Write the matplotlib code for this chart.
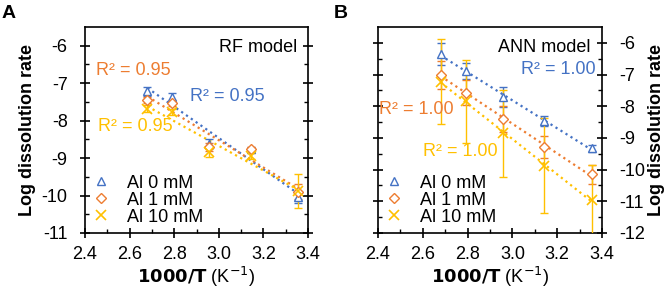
import matplotlib.pyplot as plt
import numpy as np

plt.rcParams['font.family'] = ['Liberation Sans', 'DejaVu Sans']

# 1000/T for 100, 85, 65, 45, 25 C
inv_t = [2.680, 2.792, 2.957, 3.143, 3.354]
series_names = ['Al 0 mM', 'Al 1 mM', 'Al 10 mM']
colors = ['#4472C4', '#ED7D31', '#FFC000']
markers = ['^', 'D', 'x']

# RF model
rf_al0 = [-7.21, -7.37, -8.62, -8.77, -10.04]
rf_al1 = [-7.44, -7.53, -8.70, -8.77, -9.90]
rf_al10 = [-7.68, -7.77, -8.84, -8.95, -9.88]
rf_err0 = [0.12, 0.10, 0.12, 0.06, 0.15]
rf_err1 = [0.08, 0.08, 0.10, 0.06, 0.20]
rf_err10 = [0.10, 0.08, 0.12, 0.08, 0.45]

# ANN model
ann_al0 = [-6.34, -6.90, -7.71, -8.46, -9.33]
ann_al1 = [-7.01, -7.57, -8.40, -9.28, -10.15]
ann_al10 = [-7.22, -7.85, -8.86, -9.88, -10.95]
ann_err0 = [0.35, 0.25, 0.33, 0.15, 0.12]
ann_err1 = [0.45, 0.40, 0.40, 0.35, 0.30]
ann_err10 = [1.35, 1.32, 1.38, 1.50, 1.10]

r2_rf = ['R² = 0.95', 'R² = 0.95', 'R² = 0.95']
r2_ann = ['R² = 1.00', 'R² = 1.00', 'R² = 1.00']

fig = plt.figure(figsize=(6.71, 2.90), dpi=100)
axA = fig.add_axes([0.1267, 0.1966, 0.3323, 0.7103])
axB = fig.add_axes([0.5633, 0.1966, 0.3338, 0.7103])


def draw(ax, ys, errs):
    x = np.array(inv_t)
    for y, e, c, m, name in zip(ys, errs, colors, markers, series_names):
        k, b = np.polyfit(x, y, 1)
        ax.plot(x, k * x + b, ls=':', lw=1.6, color=c, zorder=2)
        ax.errorbar(x, y, yerr=e, fmt='none', ecolor=c, elinewidth=1,
                    capsize=3, capthick=1, zorder=3)
        if m == 'x':
            ax.plot(x, y, ls='none', marker=m, ms=7, mew=1.2, color=c,
                    label=name, zorder=4)
        else:
            ax.plot(x, y, ls='none', marker=m, ms=6 if m == '^' else 5,
                    mew=1.0, mfc='white', mec=c, label=name, zorder=4)


def style(ax):
    ax.set_xlim(2.4, 3.4)
    ax.set_xticks(np.arange(2.4, 3.41, 0.2))
    ax.set_xticks(np.arange(2.5, 3.4, 0.2), minor=True)
    ax.set_yticks(np.arange(-12, -5.5, 0.5), minor=True)
    ax.tick_params(which='major', direction='inout', length=7, width=1.2,
                   labelsize=13, right=True)
    ax.tick_params(axis='y', which='major', pad=9)
    ax.tick_params(axis='x', which='major', pad=6)
    ax.tick_params(which='minor', direction='in', length=3, width=1.0, right=True)
    for s in ax.spines.values():
        s.set_linewidth(1.2)
    ax.set_xlabel('$\\mathbf{1000/T}$ (K$^{-1}$)', fontsize=13, labelpad=1)
    ax.set_ylabel('Log dissolution rate', fontsize=13, fontweight='bold')
    leg = ax.legend(loc='lower left', frameon=False, fontsize=13, handletextpad=0.9,
                    labelspacing=0.0, borderaxespad=0.0, handlelength=1.0,
                    bbox_to_anchor=(0.0, 0.0))
    return leg


draw(axA, [rf_al0, rf_al1, rf_al10], [rf_err0, rf_err1, rf_err10])
style(axA)
axA.set_ylim(-11, -5.5)
axA.set_yticks(np.arange(-11, -5.5, 1))
axA.set_yticklabels([str(v) for v in range(-11, -5)])
axA.text(0.95, 0.9, 'RF model', transform=axA.transAxes, ha='right', va='center', fontsize=13)
axA.text(0.05, 0.79, r2_rf[1], transform=axA.transAxes, color=colors[1], fontsize=13, va='center')
axA.text(0.47, 0.665, r2_rf[0], transform=axA.transAxes, color=colors[0], fontsize=13, va='center')
axA.text(0.06, 0.515, r2_rf[2], transform=axA.transAxes, color=colors[2], fontsize=13, va='center')

draw(axB, [ann_al0, ann_al1, ann_al10], [ann_err0, ann_err1, ann_err10])
style(axB)
axB.set_ylim(-12, -5.5)
axB.set_yticks(np.arange(-12, -5.5, 1))
axB.set_yticklabels([str(v) for v in range(-12, -5)])
axB.yaxis.tick_right()
axB.yaxis.set_label_position('right')
axB.tick_params(which='both', left=True, right=True)
axB.set_ylabel('Log dissolution rate', fontsize=13, fontweight='bold', labelpad=2)
axB.text(0.95, 0.9, 'ANN model', transform=axB.transAxes, ha='right', va='center', fontsize=13)
axB.text(0.64, 0.795, r2_ann[0], transform=axB.transAxes, color=colors[0], fontsize=13, va='center')
axB.text(0.005, 0.6, r2_ann[1], transform=axB.transAxes, color=colors[1], fontsize=13, va='center')
axB.text(0.2, 0.395, r2_ann[2], transform=axB.transAxes, color=colors[2], fontsize=13, va='center')

fig.text(0.003, 0.955, 'A', fontsize=14, fontweight='bold', va='center')
fig.text(0.497, 0.955, 'B', fontsize=14, fontweight='bold', va='center')

fig.savefig('out.png', dpi=100)
